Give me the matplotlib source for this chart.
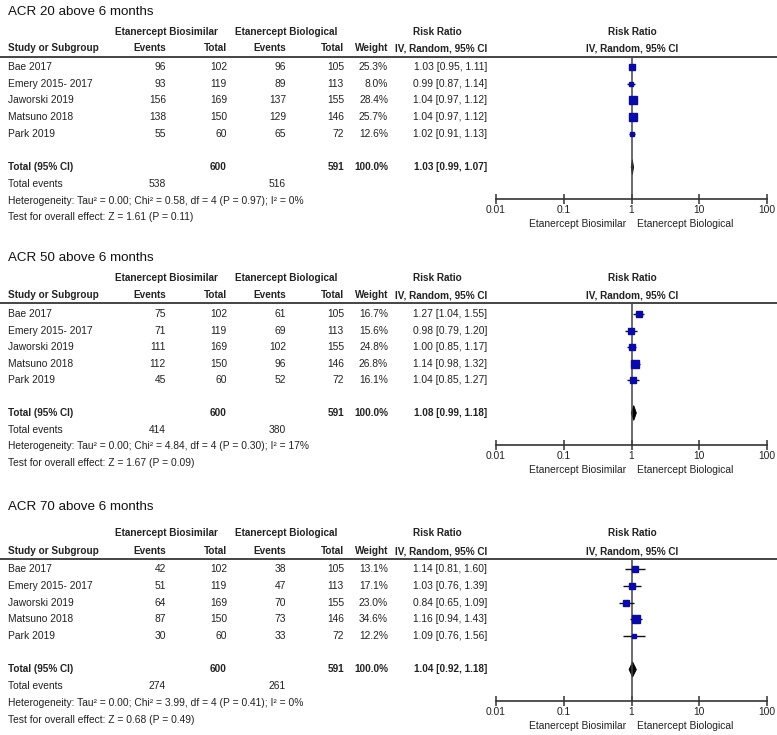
import numpy as np
import matplotlib
matplotlib.use("Agg")
import matplotlib.pyplot as plt

# ---- data ----
studies = ["Bae 2017", "Emery 2015- 2017", "Jaworski 2019", "Matsuno 2018", "Park 2019"]
total_bios = [102, 119, 169, 150, 60]
total_bio = [105, 113, 155, 146, 72]

acr20_ev_bios = [96, 93, 156, 138, 55]
acr20_ev_bio = [96, 89, 137, 129, 65]
acr20_weight = [25.3, 8.0, 28.4, 25.7, 12.6]
acr20_rr = [1.03, 0.99, 1.04, 1.04, 1.02]
acr20_lo = [0.95, 0.87, 0.97, 0.97, 0.91]
acr20_hi = [1.11, 1.14, 1.12, 1.12, 1.13]
acr20_total = [1.03, 0.99, 1.07]
acr20_events = [538, 516]
acr20_het = "Heterogeneity: Tau\u00b2 = 0.00; Chi\u00b2 = 0.58, df = 4 (P = 0.97); I\u00b2 = 0%"
acr20_test = "Test for overall effect: Z = 1.61 (P = 0.11)"

acr50_ev_bios = [75, 71, 111, 112, 45]
acr50_ev_bio = [61, 69, 102, 96, 52]
acr50_weight = [16.7, 15.6, 24.8, 26.8, 16.1]
acr50_rr = [1.27, 0.98, 1.00, 1.14, 1.04]
acr50_lo = [1.04, 0.79, 0.85, 0.98, 0.85]
acr50_hi = [1.55, 1.20, 1.17, 1.32, 1.27]
acr50_total = [1.08, 0.99, 1.18]
acr50_events = [414, 380]
acr50_het = "Heterogeneity: Tau\u00b2 = 0.00; Chi\u00b2 = 4.84, df = 4 (P = 0.30); I\u00b2 = 17%"
acr50_test = "Test for overall effect: Z = 1.67 (P = 0.09)"

acr70_ev_bios = [42, 51, 64, 87, 30]
acr70_ev_bio = [38, 47, 70, 73, 33]
acr70_weight = [13.1, 17.1, 23.0, 34.6, 12.2]
acr70_rr = [1.14, 1.03, 0.84, 1.16, 1.09]
acr70_lo = [0.81, 0.76, 0.65, 0.94, 0.76]
acr70_hi = [1.60, 1.39, 1.09, 1.43, 1.56]
acr70_total = [1.04, 0.92, 1.18]
acr70_events = [274, 261]
acr70_het = "Heterogeneity: Tau\u00b2 = 0.00; Chi\u00b2 = 3.99, df = 4 (P = 0.41); I\u00b2 = 0%"
acr70_test = "Test for overall effect: Z = 0.68 (P = 0.49)"

titles = ["ACR 20 above 6 months", "ACR 50 above 6 months", "ACR 70 above 6 months"]
ticks = [0.01, 0.1, 1, 10, 100]
tick_labels = ["0.01", "0.1", "1", "10", "100"]

panels = [
    (acr20_ev_bios, acr20_ev_bio, acr20_weight, acr20_rr, acr20_lo, acr20_hi,
     acr20_total, acr20_events, acr20_het, acr20_test),
    (acr50_ev_bios, acr50_ev_bio, acr50_weight, acr50_rr, acr50_lo, acr50_hi,
     acr50_total, acr50_events, acr50_het, acr50_test),
    (acr70_ev_bios, acr70_ev_bio, acr70_weight, acr70_rr, acr70_lo, acr70_hi,
     acr70_total, acr70_events, acr70_het, acr70_test),
]

# layout in pixels: title, header1, header2, rule, first row, row step, axis line
layout = [
    (12, 32, 48, 57, 67, 16.7, 199),
    (258, 278, 295, 303, 314, 16.5, 445),
    (507, 533, 551, 559, 569, 16.75, 701),
]

W, H = 777, 735
fig = plt.figure(figsize=(W / 100, H / 100), dpi=100)
ax0 = fig.add_axes([0, 0, 1, 1])
ax0.set_xlim(0, W)
ax0.set_ylim(H, 0)
ax0.axis("off")

tfont = ["Liberation Sans Narrow", "Liberation Sans", "DejaVu Sans"]
fs = 7.4     # regular table text
fsb = 7.2    # bold table text
tc = "#222222"
blue = "#0a0aa8"

# column right edges
x_study = 8
x_ev1, x_tot1, x_ev2, x_tot2, x_w, x_rr = 166, 227, 286, 344, 388, 487

for p, (ev1, ev2, wt, rr, lo, hi, tot, evs, het, test) in enumerate(panels):
    ty, h1, h2, rule, r0, step, axy = layout[p]
    kw = dict(family=tfont, fontsize=fs, color=tc, va="center")
    kb = dict(family=tfont, fontsize=fsb, color=tc, va="center", weight="bold")

    ax0.text(x_study, ty, titles[p], family=tfont, fontsize=9.6,
             color="#111111", va="center")

    ax0.text(166, h1, "Etanercept Biosimilar", ha="center", **kb)
    ax0.text(286, h1, "Etanercept Biological", ha="center", **kb)
    ax0.text(437, h1, "Risk Ratio", ha="center", **kb)
    ax0.text(632, h1, "Risk Ratio", ha="center", **kb)
    ax0.text(x_study, h2, "Study or Subgroup", ha="left", **kb)
    for xr, lab in [(x_ev1, "Events"), (x_tot1, "Total"), (x_ev2, "Events"),
                    (x_tot2, "Total"), (x_w, "Weight"), (x_rr, "IV, Random, 95% CI")]:
        ax0.text(xr, h2, lab, ha="right", **kb)
    ax0.text(632, h2, "IV, Random, 95% CI", ha="center", **kb)
    ax0.plot([0, W], [rule, rule], color="#444444", lw=1.4, solid_capstyle="butt")

    for i in range(len(studies)):
        y = r0 + i * step
        ax0.text(x_study, y, studies[i], ha="left", **kw)
        ax0.text(x_ev1, y, str(ev1[i]), ha="right", **kw)
        ax0.text(x_tot1, y, str(total_bios[i]), ha="right", **kw)
        ax0.text(x_ev2, y, str(ev2[i]), ha="right", **kw)
        ax0.text(x_tot2, y, str(total_bio[i]), ha="right", **kw)
        ax0.text(x_w, y, f"{wt[i]:.1f}%", ha="right", **kw)
        ax0.text(x_rr, y, f"{rr[i]:.2f} [{lo[i]:.2f}, {hi[i]:.2f}]", ha="right", **kw)

    yt = r0 + 6 * step
    ax0.text(x_study, yt, "Total (95% CI)", ha="left", **kb)
    ax0.text(x_tot1, yt, str(sum(total_bios)), ha="right", **kb)
    ax0.text(x_tot2, yt, str(sum(total_bio)), ha="right", **kb)
    ax0.text(x_w, yt, "100.0%", ha="right", **kb)
    ax0.text(x_rr, yt, f"{tot[0]:.2f} [{tot[1]:.2f}, {tot[2]:.2f}]", ha="right", **kb)
    ax0.text(x_study, r0 + 7 * step, "Total events", ha="left", **kw)
    ax0.text(x_ev1, r0 + 7 * step, str(evs[0]), ha="right", **kw)
    ax0.text(x_ev2, r0 + 7 * step, str(evs[1]), ha="right", **kw)
    ax0.text(x_study, r0 + 8 * step, het, ha="left", **kw)
    ax0.text(x_study, r0 + 9 * step, test, ha="left", **kw)

    ax0.text(626, axy + 25, "Etanercept Biosimilar", ha="right", **kw)
    ax0.text(637, axy + 25, "Etanercept Biological", ha="left", **kw)

    # forest plot axes
    left, right = 496, 767
    fa = fig.add_axes([left / W, 1 - axy / H, (right - left) / W, (axy - rule) / H])
    fa.set_xscale("log")
    fa.set_xlim(0.01, 100)
    fa.set_ylim((axy - r0) / step, (rule - r0) / step)
    fa.patch.set_visible(False)
    for s in ["top", "left", "right"]:
        fa.spines[s].set_visible(False)
    fa.spines["bottom"].set_color("#333333")
    fa.spines["bottom"].set_linewidth(1.2)
    fa.set_yticks([])
    fa.set_xticks(ticks)
    fa.set_xticklabels(tick_labels, family=tfont, fontsize=fs, color=tc)
    fa.xaxis.set_minor_locator(matplotlib.ticker.NullLocator())
    fa.tick_params(axis="x", direction="inout", length=7, width=1.1, color="#333333", pad=1)
    fa.axvline(1, color="#444444", lw=1.1)

    rows = np.arange(len(studies))
    fa.hlines(rows, lo, hi, color="#111111", lw=1.0)
    for i in rows:
        fa.plot(rr[i], i, marker="s", color=blue, ms=max(np.sqrt(wt[i]) * 1.0, 3.0),
                mec=blue, ls="none")
    dh = 0.45
    fa.fill([tot[1], tot[0], tot[2], tot[0]], [6, 6 - dh, 6, 6 + dh],
            color="black", lw=0.6)

fig.savefig("out.png", dpi=100)
